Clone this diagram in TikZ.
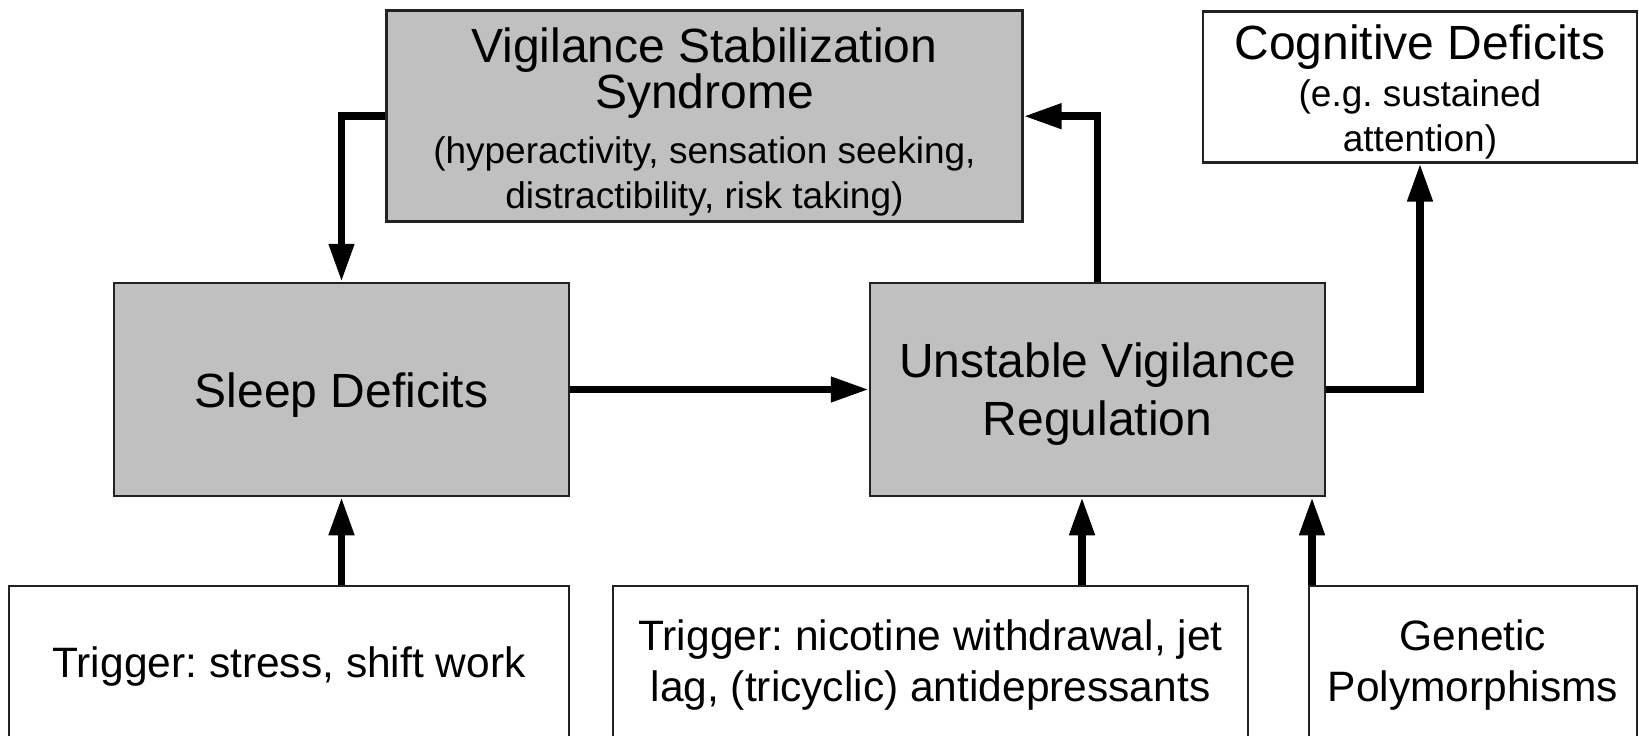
\documentclass[tikz,border=0pt]{standalone}
\usepackage{fontspec}
\setmainfont{Liberation Sans}
\usetikzlibrary{arrows.meta}
\frenchspacing
\definecolor{boxgray}{RGB}{192,192,192}
\definecolor{edgegray}{RGB}{34,34,34}
\newcommand{\normspaces}{\spaceskip=0pt\xspaceskip=0pt\leftskip=0pt plus 1fil\rightskip=0pt plus 1fil\parfillskip=0pt\relax}
\newcommand{\titlesize}{\fontsize{48}{46}\selectfont\normspaces}
\newcommand{\subsize}{\fontsize{37}{45}\selectfont\normspaces}
\newcommand{\trigsize}{\fontsize{42.5}{51.7}\selectfont\normspaces}
\newcommand{\tailpad}[1]{\par\vspace{#1}\nointerlineskip\hbox{}}
\begin{document}
\begin{tikzpicture}[x=1pt,y=-1pt,
  box/.style={draw=edgegray, line width=2.5pt, inner sep=0pt, align=center, text=black},
  graybox/.style={box, fill=boxgray},
  whitebox/.style={box, fill=white},
  conn/.style={line width=7.5pt, draw=black, line join=miter, -{Triangle[length=38pt,width=24pt]}}
]
\path[use as bounding box, fill=white] (0,0) rectangle (1639,736);

% top row
\node[graybox, minimum width=636pt, minimum height=211pt, text width=620pt] (vss) at (704.4,116.2)
  {\titlesize Vigilance Stabilization\\Syndrome\par\vspace{10pt}%
   \subsize (hyperactivity, sensation seeking,\\distractibility, risk taking)\tailpad{-10.5pt}};
\node[whitebox, minimum width=434pt, minimum height=150.6pt, text width=420pt] (cog) at (1420,87)
  {\titlesize Cognitive Deficits\par\vspace{2.4pt}%
   \subsize (e.g. sustained\\attention)\tailpad{-9.9pt}};

% middle row
\node[graybox, minimum width=455pt, minimum height=213pt, font=\titlesize,
      text height=35pt, text depth=0pt] (sleep) at (341.5,389.5) {Sleep Deficits};
\node[graybox, minimum width=455pt, minimum height=213pt, text width=440pt] (unst) at (1097.5,389.5)
  {\fontsize{48}{58}\selectfont\normspaces Unstable Vigilance\\Regulation\tailpad{-8.2pt}};

% bottom row
\node[whitebox, minimum width=560pt, minimum height=154pt, font=\trigsize,
      text height=29.4pt, text depth=0pt] (trig1) at (289,663) {Trigger: stress, shift work};
\node[whitebox, minimum width=635pt, minimum height=154pt, text width=625pt] (trig2) at (930.5,663)
  {\trigsize Trigger: nicotine withdrawal, jet\\lag, (tricyclic) antidepressants\tailpad{-4.2pt}};
\node[whitebox, minimum width=328pt, minimum height=154pt, text width=320pt] (gen) at (1473,663)
  {\trigsize Genetic\\Polymorphisms\tailpad{-4pt}};

% connectors
\draw[conn] (vss.west) -| (sleep.north);
\draw[conn] (sleep.east) -- (unst.west);
\draw[conn] (unst.north) |- (vss.east);
\draw[conn] (unst.east) -| (cog.south);
\draw[conn] (trig1.north -| sleep.south) -- (sleep.south);
\draw[conn] (trig2.north -| 1082,0) -- (unst.south -| 1082,0);
\draw[conn] (gen.north -| 1312,0) -- (unst.south -| 1312,0);
\end{tikzpicture}
\end{document}
